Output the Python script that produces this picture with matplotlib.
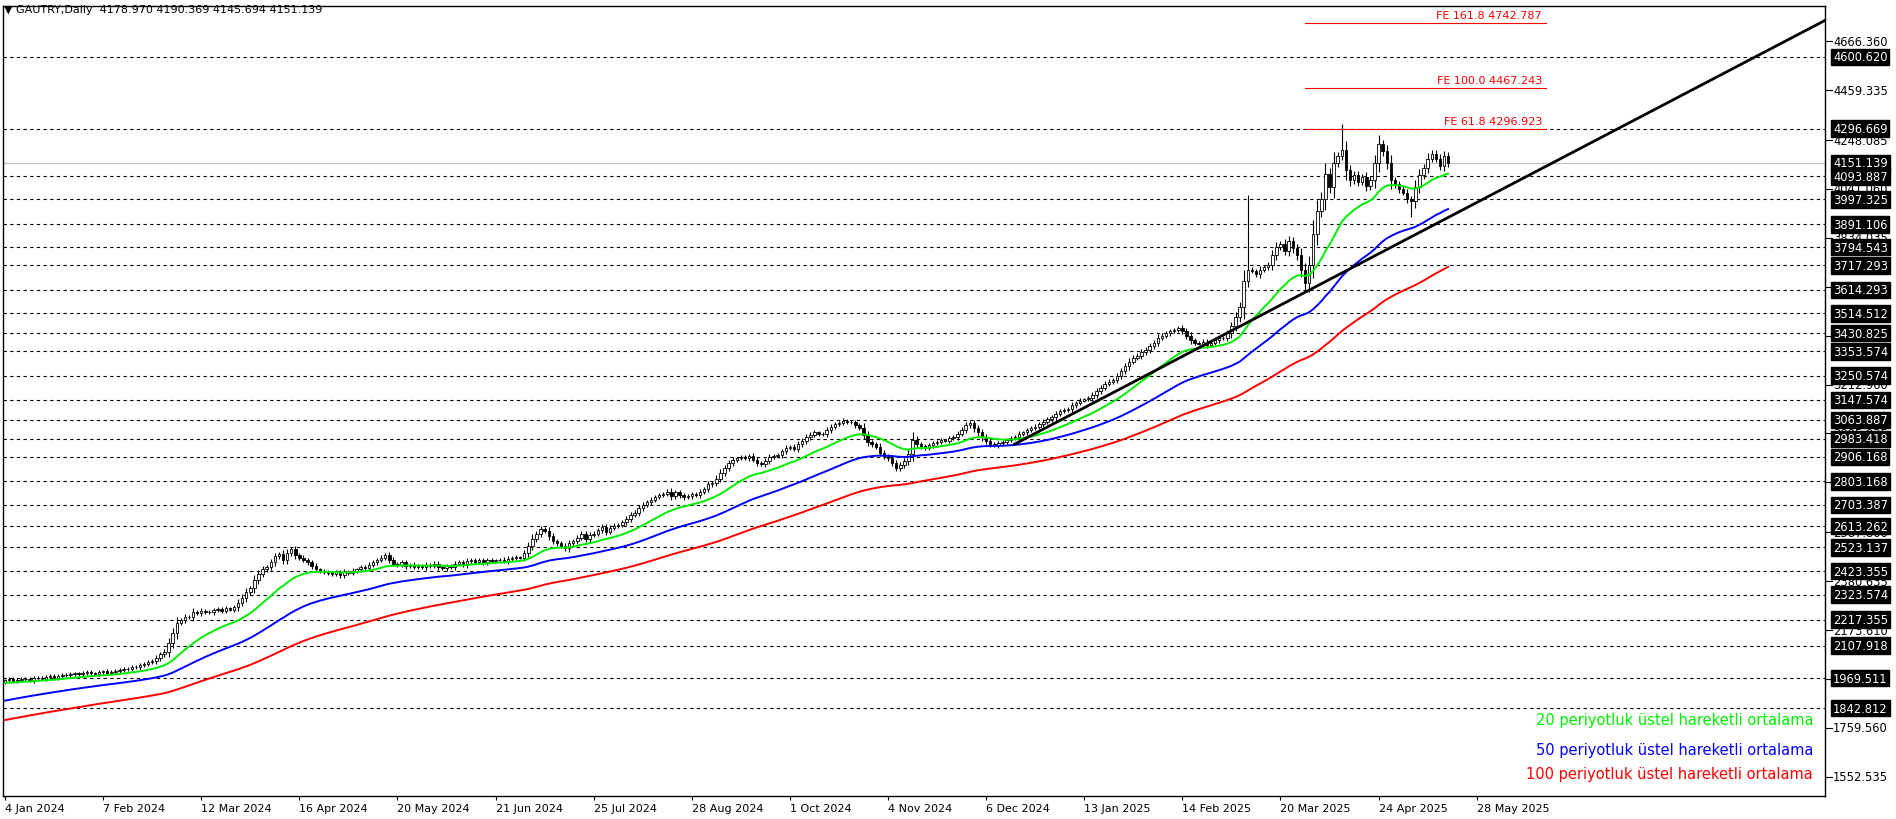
import matplotlib
matplotlib.use("Agg")
import matplotlib.pyplot as plt
import matplotlib.transforms as mtransforms
import numpy as np

closes = [
1960,1965,1958,1962,1968,1966,1960,1970,1972,1968,
1975,1978,1972,1980,1984,1981,1986,1990,1986,1992,
1995,1990,1988,1994,1998,1992,1996,2000,2004,2008,
2010,2018,2015,2025,2030,2038,2042,2055,2070,2082,
2120,2160,2205,2215,2230,2228,2250,2245,2255,2250,
2248,2258,2262,2255,2265,2260,2270,2290,2310,2335,
2350,2385,2412,2430,2440,2460,2485,2495,2470,2500,
2515,2490,2480,2470,2460,2445,2430,2425,2420,2414,
2410,2418,2405,2420,2415,2425,2430,2440,2435,2450,
2460,2470,2480,2490,2470,2455,2450,2460,2445,2450,
2440,2445,2439,2450,2445,2455,2440,2435,2445,2440,
2455,2460,2450,2465,2470,2462,2468,2460,2470,2465,
2468,2472,2465,2475,2478,2482,2480,2500,2530,2560,
2580,2600,2593,2570,2550,2540,2530,2520,2541,2550,
2565,2580,2560,2575,2582,2595,2610,2590,2605,2615,
2620,2630,2645,2660,2670,2690,2705,2715,2725,2736,
2745,2750,2760,2740,2756,2745,2735,2740,2750,2746,
2760,2770,2790,2797,2815,2840,2860,2880,2895,2900,
2905,2900,2910,2895,2880,2875,2890,2905,2910,2915,
2930,2945,2950,2940,2960,2975,2990,3000,3010,3005,
3002,3020,3035,3045,3050,3060,3055,3053,3040,3030,
3000,2970,2960,2950,2925,2910,2900,2880,2860,2874,
2890,2920,2980,2960,2951,2945,2955,2965,2970,2977,
2975,2985,2990,3005,3020,3040,3050,3028,3010,2990,
2975,2960,2955,2965,2970,2977,2985,2990,3005,3010,
3020,3028,3035,3045,3055,3065,3075,3090,3100,3105,
3110,3125,3135,3145,3150,3156,3170,3185,3200,3215,
3225,3233,3250,3270,3290,3310,3325,3335,3350,3360,
3375,3390,3412,3420,3430,3440,3445,3453,3440,3420,
3400,3390,3386,3395,3380,3390,3400,3410,3412,3430,
3460,3500,3540,3650,3700,3693,3680,3700,3710,3720,
3760,3796,3810,3780,3821,3790,3760,3700,3642,3720,
3850,3949,4000,4103,4050,4150,4180,4205,4120,4077,
4100,4070,4090,4052,4080,4150,4231,4200,4150,4077,
4060,4040,4026,4000,3990,4050,4100,4130,4170,4190,
4170,4140,4180,4151]
first_open = 1955
big_wick_bars = [304, 327, 336, 344, 318]
big_wick_highs = [4016, 4318, 4270, None, None]
big_wick_lows = [None, None, None, 3924, 3610]

ema_periods = [20, 50, 100]
ema_seeds = [1948, 1871, 1789]
ema_colors = ["#00ee00", "#0000ff", "#ff0000"]

levels = [4600.620, 4296.669, 4093.887, 3997.325, 3891.106, 3794.543, 3717.293,
          3614.293, 3514.512, 3430.825, 3353.574, 3250.574, 3147.574, 3063.887,
          2983.418, 2906.168, 2803.168, 2703.387, 2613.262, 2523.137, 2423.355,
          2323.574, 2217.355, 2107.918, 1969.511, 1842.812]
last_price = 4151.139
ticks = [4666.360, 4459.335, 4248.085, 4041.060, 3834.035, 3627.010, 3419.985,
         3212.960, 3005.935, 2798.910, 2587.800, 2380.635, 2173.610, 1966.585,
         1759.560, 1552.535]

fe_labels = ["FE 161.8 4742.787", "FE 100.0 4467.243", "FE 61.8 4296.923"]
fe_values = [4742.787, 4467.243, 4296.923]
fe_start, fe_end = 318, 377

trend_start_bar, trend_start_price = 247, 2961
trend_end_bar, trend_end_price = 446, 4762

date_labels = ["4 Jan 2024", "7 Feb 2024", "12 Mar 2024", "16 Apr 2024", "20 May 2024",
               "21 Jun 2024", "25 Jul 2024", "28 Aug 2024", "1 Oct 2024", "4 Nov 2024",
               "6 Dec 2024", "13 Jan 2025", "14 Feb 2025", "20 Mar 2025", "24 Apr 2025",
               "28 May 2025"]
date_bars = [0, 24, 48, 72, 96, 120, 144, 168, 192, 216, 240, 264, 288, 312, 336, 360]

legend_texts = ["20 periyotluk üstel hareketli ortalama",
                "50 periyotluk üstel hareketli ortalama",
                "100 periyotluk üstel hareketli ortalama"]

# ---------------------------------------------------------------
W, H = 1896, 820
fig = plt.figure(figsize=(W/100, H/100), dpi=100)
ax = fig.add_axes([3/W, (H-796.7)/H, (1825-3)/W, (796.7-7)/H])
ax.set_xlim(-0.5, 445.2)
ax.set_ylim(1472, 4815.8)

c = np.array(closes, float)
o = np.concatenate([[first_open], c[:-1]])
n = len(c)
x = np.arange(n)
hi = np.maximum(o, c) + np.abs(c - o) * 0.4 + 6
lo = np.minimum(o, c) - np.abs(c - o) * 0.4 - 6
for b, h, l in zip(big_wick_bars, big_wick_highs, big_wick_lows):
    if h is not None: hi[b] = h
    if l is not None: lo[b] = l

for lv in levels:
    ax.axhline(lv, color="black", lw=0.8, ls=(0, (3, 3)), zorder=1)
ax.axhline(last_price, color="#c0c0c0", lw=0.9, zorder=1)

ax.vlines(x, lo, hi, color="black", lw=0.8, zorder=3)
up = c >= o
body = np.maximum(np.abs(c - o), 2)
ax.bar(x[up], body[up], bottom=np.minimum(o, c)[up], width=0.6, color="white",
       edgecolor="black", lw=0.6, zorder=4)
ax.bar(x[~up], body[~up], bottom=np.minimum(o, c)[~up], width=0.6, color="black",
       edgecolor="black", lw=0.6, zorder=4)

for p, s, col in zip(ema_periods, ema_seeds, ema_colors):
    a = 2 / (p + 1)
    e = np.empty(n)
    prev = s
    for i in range(n):
        prev = prev + a * (c[i] - prev)
        e[i] = prev
    ax.plot(x, e, color=col, lw=1.4, zorder=5)

ax.plot([trend_start_bar, trend_end_bar], [trend_start_price, trend_end_price],
        color="black", lw=2, zorder=6, clip_on=True)

for lab, v in zip(fe_labels, fe_values):
    ax.plot([fe_start, fe_end], [v, v], color="red", lw=0.8, zorder=6)
    ax.text(fe_end - 1, v + 12, lab, color="red", fontsize=8, ha="right", va="bottom",
            family="DejaVu Sans")

ax.set_xticks(date_bars)
ax.set_xticklabels(date_labels, ha="left", fontsize=8)
ax.tick_params(axis="x", length=3, pad=2)
ax.set_yticks([])
for s in ax.spines.values():
    s.set_linewidth(1)

tr = mtransforms.blended_transform_factory(ax.transAxes, ax.transData)
for t in ticks:
    ax.plot([1.0, 1.004], [t, t], transform=tr, color="black", lw=0.8, clip_on=False)
    ax.text(1.0045, t, f"{t:.3f}", transform=tr, fontsize=8.3, va="center", ha="left",
            clip_on=False)
for lv in levels + [last_price]:
    ax.text(1.0045, lv, f"{lv:.3f}", transform=tr, fontsize=8.3, va="center", ha="left",
            color="white", clip_on=False, zorder=10,
            bbox=dict(boxstyle="square,pad=0.15", fc="black", ec="black"))

ys = [0.097, 0.059, 0.028]
for txt, col, yy in zip(legend_texts, ema_colors, ys):
    ax.text(0.9935, yy, txt, transform=ax.transAxes, color=col, fontsize=10.5,
            ha="right", va="center")

fig.text(4/W, 1 - 10/H, "▼ GAUTRY,Daily  4178.970 4190.369 4145.694 4151.139",
         fontsize=8, va="center", ha="left")

fig.savefig("out.png", dpi=100, facecolor="white")
